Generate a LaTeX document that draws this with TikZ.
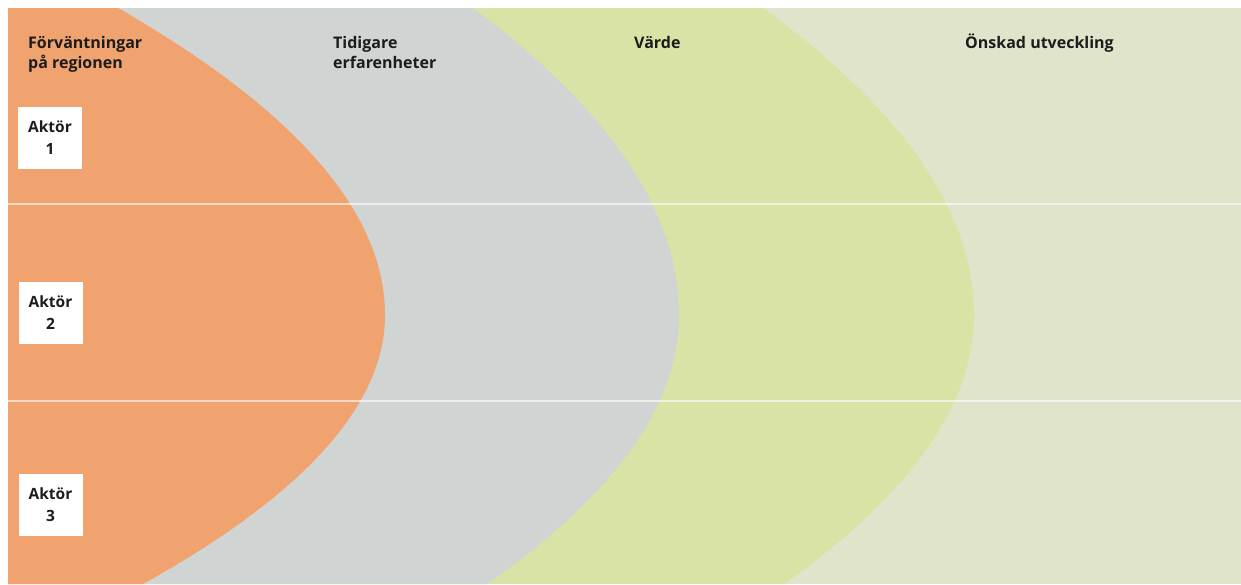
\documentclass[tikz,border=0pt]{standalone}
\usepackage{fontspec}
\setmainfont{Open Sans}
\definecolor{orangeC}{RGB}{241,163,111}
\definecolor{grayC}{RGB}{208,212,211}
\definecolor{yellowC}{RGB}{218,227,166}
\definecolor{lightC}{RGB}{224,228,202}
\definecolor{txtC}{RGB}{28,28,28}
\tikzset{
  headtwo/.style={inner sep=0pt, anchor=north west, align=left, font=\bfseries\fontsize{16}{20}\selectfont, text=txtC},
  headone/.style={inner sep=0pt, anchor=base west, font=\bfseries\fontsize{16}{20}\selectfont, text=txtC},
  actbox/.style={fill=white, inner sep=0pt, minimum width=64pt, minimum height=62pt, align=center, font=\bfseries\fontsize{15.5}{22}\selectfont, text=txtC},
  rowline/.style={draw=white, opacity=0.6, line width=2pt},
}
\begin{document}
\begin{tikzpicture}[x=1pt,y=-1pt]
\useasboundingbox (0,0) rectangle (1241,584);
\fill[white] (0,0) rectangle (1241,584);
% background
\fill[lightC] (8,8) rectangle (1241,584);
% yellow region
\fill[yellowC] (8,8) -- (763,8) .. controls (903.67,110.33) and (974,212.67) .. (974,315)
  .. controls (974,404.67) and (910.67,494.33) .. (784,584) -- (8,584) -- cycle;
% gray region
\fill[grayC] (8,8) -- (473,8) .. controls (610.33,110.33) and (679,212.67) .. (679,315)
  .. controls (679,404.67) and (615,494.33) .. (487,584) -- (8,584) -- cycle;
% orange region
\fill[orangeC] (8,8) -- (118,8) .. controls (296,110.33) and (385,212.67) .. (385,315)
  .. controls (385,404.67) and (304.33,494.33) .. (143,584) -- (8,584) -- cycle;
% row separators
\coordinate (l1a) at (8,204);
\coordinate (l1b) at (1241,204);
\coordinate (l2a) at (8,401);
\coordinate (l2b) at (1241,401);
\draw[rowline] (l1a) -- (l1b);
\draw[rowline] (l2a) -- (l2b);
% headers
\node[headtwo] (h1) at (28,36) {Förväntningar\\på regionen};
\node[headtwo] (h2) at (333,36) {Tidigare\\erfarenheter};
\node[headone] (h3) at (634,48) {Värde};
\node[headone] (h4) at (965,48) {Önskad utveckling};
% actor boxes
\node[actbox] (a1) at (50,137.5) {Aktör\\1};
\node[actbox] (a2) at (50.5,313) {Aktör\\2};
\node[actbox] (a3) at (50.5,505) {Aktör\\3};
\end{tikzpicture}
\end{document}
